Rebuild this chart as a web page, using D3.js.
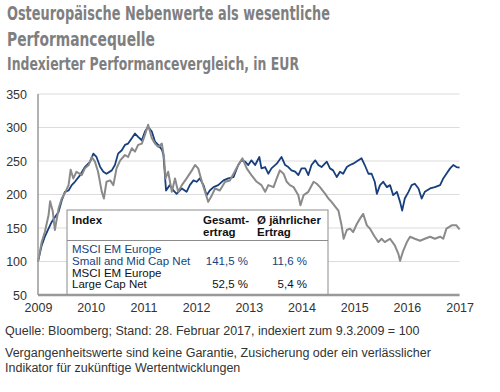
<!DOCTYPE html>
<html>
<head>
<meta charset="utf-8">
<script src="https://cdn.jsdelivr.net/npm/d3@7"></script>
<style>
	body { margin: 0; background: #fff; }
	svg { display: block; }
</style>
</head>
<body>
<svg width="500" height="392"></svg>
<script>
// titles
var titleLines = ['Osteuropäische Nebenwerte als wesentliche', 'Performancequelle'];
var subtitle = 'Indexierter Performancevergleich, in EUR';
var footLines = [
	'Quelle: Bloomberg; Stand: 28. Februar 2017, indexiert zum 9.3.2009 = 100',
	'Vergangenheitswerte sind keine Garantie, Zusicherung oder ein verlässlicher',
	'Indikator für zukünftige Wertentwicklungen'
];

// axis ticks
var yearTicks = [2009, 2010, 2011, 2012, 2013, 2014, 2015, 2016, 2017];
var valueTicks = [50, 100, 150, 200, 250, 300, 350];

// MSCI EM Europe Small and Mid Cap Net  [year, index]
var smallMid = [
	[2009.00, 100], [2009.07, 124], [2009.13, 137], [2009.20, 149], [2009.26, 159], [2009.32, 166],
	[2009.39, 174], [2009.45, 191], [2009.51, 204], [2009.58, 206], [2009.64, 214], [2009.70, 219],
	[2009.80, 229], [2009.89, 241], [2009.99, 249], [2010.05, 261], [2010.11, 256], [2010.18, 241],
	[2010.24, 234], [2010.30, 231], [2010.40, 236], [2010.46, 244], [2010.52, 261], [2010.59, 266],
	[2010.65, 274], [2010.71, 276], [2010.78, 284], [2010.84, 291], [2010.90, 286], [2010.97, 281],
	[2011.03, 294], [2011.09, 301], [2011.16, 294], [2011.22, 279], [2011.28, 274], [2011.35, 267],
	[2011.38, 259], [2011.43, 206], [2011.50, 214], [2011.57, 206], [2011.63, 201], [2011.73, 209],
	[2011.82, 204], [2011.88, 214], [2011.95, 221], [2012.01, 219], [2012.07, 224], [2012.14, 214],
	[2012.20, 199], [2012.26, 206], [2012.33, 211], [2012.42, 214], [2012.52, 221], [2012.61, 224],
	[2012.71, 226], [2012.80, 244], [2012.86, 251], [2012.93, 249], [2012.99, 244], [2013.05, 251],
	[2013.12, 244], [2013.20, 256], [2013.24, 239], [2013.31, 241], [2013.37, 231], [2013.43, 239],
	[2013.53, 246], [2013.62, 256], [2013.69, 244], [2013.75, 241], [2013.81, 236], [2013.88, 234],
	[2013.94, 229], [2014.00, 239], [2014.07, 239], [2014.13, 229], [2014.19, 244], [2014.26, 251],
	[2014.32, 244], [2014.38, 241], [2014.48, 249], [2014.54, 239], [2014.60, 236], [2014.67, 226],
	[2014.73, 234], [2014.79, 231], [2014.86, 241], [2014.92, 244], [2014.98, 246], [2015.08, 251],
	[2015.14, 254], [2015.20, 244], [2015.27, 231], [2015.33, 231], [2015.39, 219], [2015.43, 201],
	[2015.49, 214], [2015.55, 219], [2015.62, 211], [2015.68, 214], [2015.74, 199], [2015.81, 204],
	[2015.87, 189], [2015.91, 176], [2015.96, 194], [2016.03, 204], [2016.09, 214], [2016.15, 216],
	[2016.22, 209], [2016.28, 194], [2016.34, 204], [2016.44, 209], [2016.53, 211], [2016.63, 214],
	[2016.69, 224], [2016.75, 231], [2016.82, 239], [2016.88, 244], [2016.94, 241], [2017.00, 240]
];

// MSCI EM Europe Large Cap Net  [year, index]
var largeCap = [
	[2009.00, 100], [2009.07, 129], [2009.13, 144], [2009.20, 169], [2009.23, 190], [2009.28, 175],
	[2009.32, 147], [2009.39, 179], [2009.45, 194], [2009.51, 202], [2009.58, 214], [2009.62, 237],
	[2009.67, 224], [2009.73, 234], [2009.83, 229], [2009.89, 239], [2009.96, 244], [2010.02, 256],
	[2010.08, 249], [2010.14, 234], [2010.21, 204], [2010.25, 194], [2010.30, 219], [2010.37, 221],
	[2010.43, 214], [2010.49, 239], [2010.56, 251], [2010.65, 259], [2010.71, 256], [2010.78, 269],
	[2010.84, 264], [2010.90, 274], [2010.97, 276], [2011.03, 289], [2011.09, 304], [2011.16, 284],
	[2011.22, 276], [2011.28, 271], [2011.35, 276], [2011.39, 256], [2011.42, 224], [2011.47, 234],
	[2011.54, 204], [2011.60, 224], [2011.66, 204], [2011.73, 214], [2011.82, 224], [2011.92, 236],
	[2011.98, 244], [2012.04, 239], [2012.11, 219], [2012.17, 204], [2012.23, 189], [2012.30, 199],
	[2012.36, 209], [2012.45, 206], [2012.55, 219], [2012.64, 221], [2012.71, 231], [2012.80, 244],
	[2012.88, 254], [2012.96, 239], [2013.05, 229], [2013.15, 219], [2013.24, 214], [2013.31, 204],
	[2013.37, 214], [2013.47, 211], [2013.53, 224], [2013.59, 236], [2013.66, 231], [2013.72, 219],
	[2013.78, 214], [2013.85, 211], [2013.94, 199], [2013.98, 184], [2014.04, 199], [2014.13, 204],
	[2014.23, 219], [2014.29, 216], [2014.35, 211], [2014.45, 201], [2014.51, 194], [2014.57, 189],
	[2014.64, 182], [2014.70, 176], [2014.76, 154], [2014.80, 134], [2014.86, 147], [2014.92, 149],
	[2014.98, 144], [2015.05, 156], [2015.11, 164], [2015.17, 171], [2015.24, 154], [2015.30, 149],
	[2015.39, 137], [2015.46, 129], [2015.52, 134], [2015.58, 129], [2015.68, 134], [2015.77, 124],
	[2015.84, 111], [2015.87, 101], [2015.93, 116], [2016.00, 129], [2016.06, 137], [2016.15, 134],
	[2016.25, 131], [2016.34, 134], [2016.44, 137], [2016.53, 134], [2016.63, 137], [2016.69, 134],
	[2016.75, 149], [2016.85, 154], [2016.94, 154], [2017.00, 148]
];

// legend table
var legendNames = [['MSCI EM Europe', 'Small and Mid Cap Net'], ['MSCI EM Europe', 'Large Cap Net']];
var totalReturn = [141.5, 52.5];
var annualReturn = [11.6, 5.4];

var blue = '#173f7d',
	grey = '#8a8a8a';

var svg = d3.select('svg'),
	font = '"Liberation Sans", Arial, sans-serif',
	narrow = '"Liberation Sans Narrow", "DejaVu Sans Condensed", sans-serif';

var x = d3.scaleLinear()
	.domain([2009, 2017])
	.range([38, 459.6]);

var y = d3.scaleLinear()
	.domain([50, 350])
	.range([295, 94]);

// title block - squeeze the text to the condensed width of the original
var titleWidths = [323, 148];
svg.selectAll('text.title')
	.data(titleLines)
	.enter()
	.append('text')
	.attr('class', 'title')
	.attr('x', 7)
	.attr('y', function(d, i) { return 20 + i * 26; })
	.attr('textLength', function(d, i) { return titleWidths[i]; })
	.attr('lengthAdjust', 'spacingAndGlyphs')
	.style('font-family', narrow)
	.style('font-weight', 'bold')
	.style('font-size', '20px')
	.attr('fill', '#7f7f7f')
	.text(function(d) { return d; });

svg.append('text')
	.attr('x', 7)
	.attr('y', 70)
	.attr('textLength', 292)
	.attr('lengthAdjust', 'spacingAndGlyphs')
	.style('font-family', narrow)
	.style('font-weight', 'bold')
	.style('font-size', '18px')
	.attr('fill', '#7f7f7f')
	.text(subtitle);

// gridlines
svg.append('g')
	.selectAll('line')
	.data(valueTicks.slice(1))
	.enter()
	.append('line')
	.attr('x1', x(2009))
	.attr('x2', x(2017))
	.attr('y1', function(d) { return y(d); })
	.attr('y2', function(d) { return y(d); })
	.attr('stroke', '#dcdcdc')
	.attr('stroke-width', 1.2);

// y axis labels
var yAxis = d3.axisLeft(y)
	.tickValues(valueTicks)
	.tickSize(0)
	.tickPadding(11);

svg.append('g')
	.attr('transform', 'translate(' + x(2009) + ',0)')
	.call(yAxis)
	.call(function(g) {
		g.select('.domain').remove();
		g.selectAll('text')
			.style('font-family', font)
			.style('font-size', '12.5px')
			.attr('fill', '#333');
	});

// x axis labels
var xAxis = d3.axisBottom(x)
	.tickValues(yearTicks)
	.tickFormat(d3.format('d'))
	.tickSize(0)
	.tickPadding(8);

svg.append('g')
	.attr('transform', 'translate(0,' + y(50) + ')')
	.call(xAxis)
	.call(function(g) {
		g.select('.domain').remove();
		g.selectAll('text')
			.style('font-family', font)
			.style('font-size', '12.5px')
			.attr('fill', '#333');
	});

// lines
var line = d3.line()
	.x(function(d) { return x(d[0]); })
	.y(function(d) { return y(d[1]); });

svg.append('path')
	.datum(smallMid)
	.attr('d', line)
	.attr('fill', 'none')
	.attr('stroke', blue)
	.attr('stroke-width', 1.8)
	.attr('stroke-linejoin', 'round');

svg.append('path')
	.datum(largeCap)
	.attr('d', line)
	.attr('fill', 'none')
	.attr('stroke', grey)
	.attr('stroke-width', 2)
	.attr('stroke-linejoin', 'round');

// axis lines
svg.append('line')
	.attr('x1', x(2009))
	.attr('x2', x(2009))
	.attr('y1', y(350))
	.attr('y2', y(50))
	.attr('stroke', '#999')
	.attr('stroke-width', 1.5);

// legend table
var box = svg.append('g');
var bx = 67, bw = 261, by = 210;

box.append('rect')
	.attr('x', bx)
	.attr('y', by)
	.attr('width', bw)
	.attr('height', y(50) - by)
	.attr('fill', '#fff')
	.attr('stroke', '#8c8c8c')
	.attr('stroke-width', 1);

box.append('line')
	.attr('x1', bx)
	.attr('x2', bx + bw)
	.attr('y1', 240.5)
	.attr('y2', 240.5)
	.attr('stroke', '#8c8c8c');

var headers = [
	{ lines: ['Index'], x: 72 },
	{ lines: ['Gesamt-', 'ertrag'], x: 203 },
	{ lines: ['Ø jährlicher', 'Ertrag'], x: 257 }
];

headers.forEach(function(h) {
	h.lines.forEach(function(t, i) {
		box.append('text')
			.attr('x', h.x)
			.attr('y', 224 + i * 12)
			.style('font-family', font)
			.style('font-size', '11.5px')
			.style('font-weight', 'bold')
			.attr('fill', '#111')
			.text(t);
	});
});

var fmt = function(v) { return d3.format('.1f')(v).replace('.', ',') + ' %'; };
var rowColor = [blue, '#111'];

legendNames.forEach(function(names, r) {
	var top = 253 + r * 23.5;
	names.forEach(function(t, i) {
		box.append('text')
			.attr('x', 72)
			.attr('y', top + i * 11.5)
			.style('font-family', font)
			.style('font-size', '11.5px')
			.attr('fill', rowColor[r])
			.text(t);
	});
	box.append('text')
		.attr('x', 248)
		.attr('y', top + 11.5)
		.attr('text-anchor', 'end')
		.style('font-family', font)
		.style('font-size', '11.5px')
		.attr('fill', rowColor[r])
		.text(fmt(totalReturn[r]));
	box.append('text')
		.attr('x', 307)
		.attr('y', top + 11.5)
		.attr('text-anchor', 'end')
		.style('font-family', font)
		.style('font-size', '11.5px')
		.attr('fill', rowColor[r])
		.text(fmt(annualReturn[r]));
});

svg.append('line')
	.attr('x1', x(2009))
	.attr('x2', x(2017))
	.attr('y1', y(50))
	.attr('y2', y(50))
	.attr('stroke', '#999')
	.attr('stroke-width', 2.5);

// footnotes
svg.selectAll('text.foot')
	.data(footLines)
	.enter()
	.append('text')
	.attr('class', 'foot')
	.attr('x', 5)
	.attr('y', function(d, i) { return i === 0 ? 335 : 342 + i * 15; })
	.style('font-family', font)
	.style('font-size', '12.5px')
	.attr('fill', '#333')
	.text(function(d) { return d; });
</script>
</body>
</html>
